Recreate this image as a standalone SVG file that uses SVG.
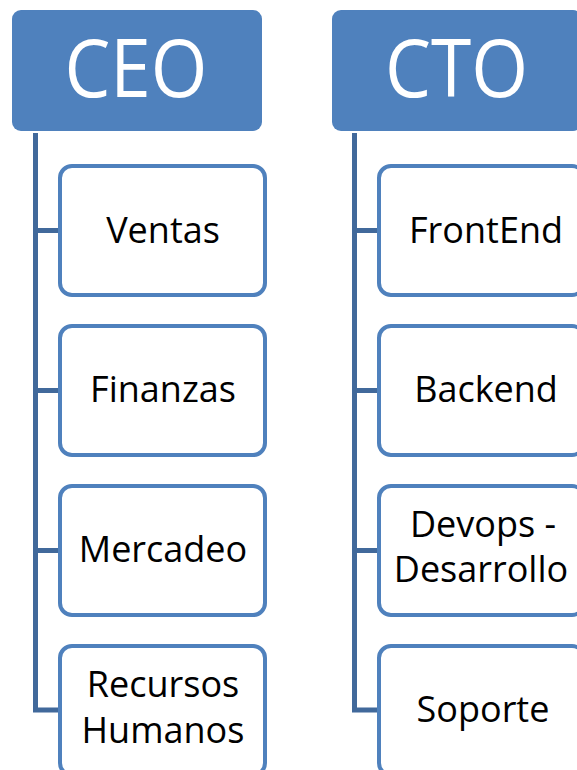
<svg xmlns="http://www.w3.org/2000/svg" width="577" height="770" viewBox="0 0 577 770">
  <style>
    .head { fill: #4F81BD; }
    .head-text { font-family: "Open Sans", "Liberation Sans", sans-serif; font-size: 80px; fill: #FFFFFF; text-anchor: middle; }
    .child { fill: #FFFFFF; stroke: #4F81BD; stroke-width: 4; }
    .child-text { font-family: "Open Sans", "Liberation Sans", sans-serif; font-size: 36px; fill: #000000; text-anchor: middle; }
    .link { fill: none; stroke: #41699B; stroke-width: 5; stroke-linejoin: miter; }
  </style>
  <rect width="577" height="770" fill="#FFFFFF"/>

  <!-- connectors -->
  <g id="connectors">
    <path class="link" d="M35.5,133 V710 H60 M35.5,230.5 H60 M35.5,390.5 H60 M35.5,550.5 H60"/>
    <path class="link" d="M354.5,133 V710 H379 M354.5,230.5 H379 M354.5,390.5 H379 M354.5,550.5 H379"/>
  </g>

  <!-- CEO branch -->
  <g id="ceo">
    <rect class="head" x="12" y="10" width="250" height="121" rx="9"/>
    <text class="head-text" x="136" y="97" textLength="143" lengthAdjust="spacingAndGlyphs">CEO</text>
  </g>
  <g id="ventas">
    <rect class="child" x="60" y="166" width="205" height="129" rx="12"/>
    <text class="child-text" x="163" y="243">Ventas</text>
  </g>
  <g id="finanzas">
    <rect class="child" x="60" y="326" width="205" height="129" rx="12"/>
    <text class="child-text" x="163" y="402">Finanzas</text>
  </g>
  <g id="mercadeo">
    <rect class="child" x="60" y="486" width="205" height="129" rx="12"/>
    <text class="child-text" x="163" y="562">Mercadeo</text>
  </g>
  <g id="recursos-humanos">
    <rect class="child" x="60" y="646" width="205" height="129" rx="12"/>
    <text class="child-text" x="163" y="697">Recursos</text>
    <text class="child-text" x="163" y="743">Humanos</text>
  </g>

  <!-- CTO branch -->
  <g id="cto">
    <rect class="head" x="332" y="10" width="250" height="121" rx="9"/>
    <text class="head-text" x="456.5" y="97" textLength="143" lengthAdjust="spacingAndGlyphs">CTO</text>
  </g>
  <g id="frontend">
    <rect class="child" x="379" y="166" width="205" height="129" rx="12"/>
    <text class="child-text" x="486" y="243">FrontEnd</text>
  </g>
  <g id="backend">
    <rect class="child" x="379" y="326" width="205" height="129" rx="12"/>
    <text class="child-text" x="486" y="402">Backend</text>
  </g>
  <g id="devops">
    <rect class="child" x="379" y="486" width="205" height="129" rx="12"/>
    <text class="child-text" x="483" y="537">Devops -</text>
    <text class="child-text" x="481" y="582">Desarrollo</text>
  </g>
  <g id="soporte">
    <rect class="child" x="379" y="646" width="205" height="129" rx="12"/>
    <text class="child-text" x="483" y="722">Soporte</text>
  </g>
</svg>
